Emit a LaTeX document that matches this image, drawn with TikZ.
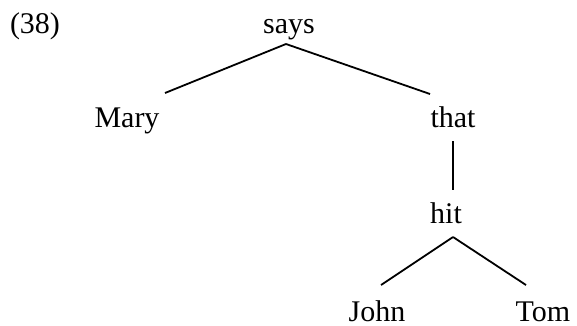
\documentclass[tikz,border=0pt]{standalone}
\usepackage{fontspec}
\setmainfont{Liberation Serif}
\begin{document}
\begin{tikzpicture}[x=1pt,y=-1pt,
  word/.style={anchor=base,inner sep=0pt,font=\fontsize{30}{36}\selectfont},
  edge/.style={line width=1.8pt}]
\useasboundingbox (0,0) rectangle (577,325);
% example number
\node[word] (num) at (35,33) {(38)};
% tree nodes (placed by their baselines)
\node[word] (says) at (289,33) {says};
\node[word] (mary) at (127,127) {Mary};
\node[word] (that) at (453,127) {that};
\node[word] (hit)  at (446,223) {hit};
\node[word] (john) at (377,321) {John};
\node[word] (tom)  at (543,321) {Tom};
% dependency edges
\draw[edge] ([shift={(-3pt,-11pt)}]says.base) -- ([shift={(38pt,34pt)}]mary.base);
\draw[edge] ([shift={(-3pt,-11pt)}]says.base) -- ([shift={(-23pt,33pt)}]that.base);
\draw[edge] ([shift={(0pt,-14pt)}]that.base) -- ([shift={(7pt,33pt)}]hit.base);
\draw[edge] ([shift={(7pt,-14pt)}]hit.base) -- ([shift={(4pt,36pt)}]john.base);
\draw[edge] ([shift={(7pt,-14pt)}]hit.base) -- ([shift={(-17pt,36pt)}]tom.base);
\end{tikzpicture}
\end{document}
